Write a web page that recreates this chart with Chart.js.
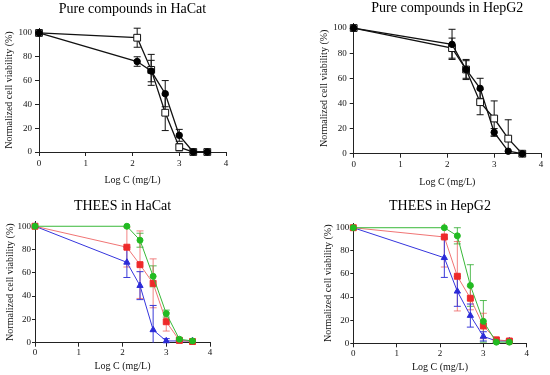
<!DOCTYPE html>
<html>
<head>
<meta charset="utf-8">
<script src="https://cdn.jsdelivr.net/npm/chart.js@4.4.1/dist/chart.umd.min.js"></script>
<style>
  html, body { margin: 0; padding: 0; background: #fff; }
  body { width: 550px; height: 375px; position: relative; overflow: hidden; }
  .panel { position: absolute; }
</style>
</head>
<body>
<div class="panel" id="p1"><canvas id="c1"></canvas></div>
<div class="panel" id="p2"><canvas id="c2"></canvas></div>
<div class="panel" id="p3"><canvas id="c3"></canvas></div>
<div class="panel" id="p4"><canvas id="c4"></canvas></div>
<script>
// Log concentration (x) shared by all panels
const logC = [0, 2.1, 2.4, 2.7, 3.0, 3.3, 3.6]
const xTicks = [0, 1, 2, 3, 4]
const yTicks = [0, 20, 40, 60, 80, 100]

// Pure compounds in HaCat
const hacatCircle = [100, 76, 68, 49, 14, 0, 0]
const hacatCircleSd = [0, 4, 9, 11, 5, 0, 0]
const hacatSquare = [100, 96, 69, 33, 4, 0, 0]
const hacatSquareSd = [0, 8, 13, 15, 3, 0, 0]

// Pure compounds in HepG2
const hepCircle = [100, 87, 67, 52, 17, 2, 0]
const hepCircleSd = [0, 12, 7, 8, 3, 0, 0]
const hepSquare = [100, 84, 67, 41, 28, 12, 0]
const hepSquareSd = [0, 8, 8, 10, 14, 15, 0]

// THEES in HaCat
const thHacatGreen = [100, 100, 88, 57, 25, 3, 1.5]
const thHacatGreenSd = [0, 0, 6, 9, 3, 1, 0]
const thHacatRed = [100, 82, 67, 51, 18, 2, 1]
const thHacatRedSd = [0, 17, 29, 21, 8, 1, 0]
const thHacatBlue = [100, 69, 49, 11, 1.5, 1.5, 1.5]
const thHacatBlueSd = [0, 13, 12, 21, 2, 0, 0]

// THEES in HepG2
const thHepGreen = [100, 100, 93, 50, 19, 1, 1]
const thHepGreenSd = [0, 0, 7, 18, 18, 1, 1]
const thHepRed = [100, 92, 58, 39, 15, 3, 2]
const thHepRedSd = [0, 26, 30, 10, 11, 2, 1]
const thHepBlue = [100, 74, 45, 24, 6, 2, 2]
const thHepBlueSd = [0, 17, 13, 10, 4, 1, 1]

const serif = "'Liberation Serif', 'Times New Roman', serif"
const axisColor = "#222"

// vertical SD bars with caps, drawn under the points
const errorBars = {
  id: "errorBars",
  beforeDatasetsDraw(chart) {
    const ctx = chart.ctx
    const y = chart.scales.y
    chart.data.datasets.forEach((ds, i) => {
      if (!ds.sd) return
      const meta = chart.getDatasetMeta(i)
      ctx.save()
      ctx.strokeStyle = ds.errColor
      ctx.lineWidth = 1
      meta.data.forEach((pt, j) => {
        const s = ds.sd[j]
        if (!s) return
        const v = ds.data[j].y
        const hi = Math.min(v + s, y.max)
        const lo = Math.max(v - s, y.min)
        const yt = y.getPixelForValue(hi)
        const yb = y.getPixelForValue(lo)
        ctx.beginPath()
        ctx.moveTo(pt.x, yt)
        ctx.lineTo(pt.x, yb)
        if (v + s <= y.max) {
          ctx.moveTo(pt.x - 3.5, yt)
          ctx.lineTo(pt.x + 3.5, yt)
        }
        if (v - s >= y.min) {
          ctx.moveTo(pt.x - 3.5, yb)
          ctx.lineTo(pt.x + 3.5, yb)
        }
        ctx.stroke()
      })
      ctx.restore()
    })
  },
}

// place a canvas so its plot area lands on the given pixels
function frame(L, R, T, B, titleY, xTitleY, yTitleX, yTick, xTick) {
  const left = Math.round(yTitleX - 10)
  const top = Math.round(titleY - 8.4)
  const width = Math.round(R + 10 - left)
  const height = Math.round(xTitleY + 10 - top)
  return {
    left, top, width, height,
    yw: L - left,
    padRight: left + width - R,
    titlePad: T - top - 16.8,
    xh: top + height - B,
    yTick, xTick,
  }
}

function makePanel(n, f, title, series) {
  const div = document.getElementById("p" + n)
  div.style.left = f.left + "px"
  div.style.top = f.top + "px"
  div.style.width = f.width + "px"
  div.style.height = f.height + "px"

  const tickFont = { family: serif, size: 9 }
  const titleFont = { family: serif, size: 10 }

  new Chart(document.getElementById("c" + n), {
    type: "line",
    data: {
      datasets: series.map((s) => ({
        data: logC.map((x, i) => ({ x: x, y: s.values[i] })),
        sd: s.sd,
        errColor: s.err,
        borderColor: s.line,
        borderWidth: s.lw,
        pointStyle: s.style,
        pointRadius: s.r,
        pointBackgroundColor: s.fill,
        pointBorderColor: s.stroke,
        pointBorderWidth: 1,
        tension: 0,
        clip: false,
      })),
    },
    options: {
      responsive: true,
      maintainAspectRatio: false,
      animation: false,
      layout: { padding: { left: 0, right: f.padRight, top: 0, bottom: 0 } },
      plugins: {
        legend: { display: false },
        tooltip: { enabled: false },
        title: {
          display: true,
          text: title,
          fullSize: false,
          color: "#000",
          font: { family: serif, size: 14, weight: "normal" },
          padding: { top: 0, bottom: f.titlePad },
        },
      },
      scales: {
        x: {
          type: "linear",
          min: xTicks[0],
          max: xTicks[xTicks.length - 1],
          afterBuildTicks: (s) => { s.ticks = xTicks.map((v) => ({ value: v })) },
          afterFit: (s) => { s.height = f.xh },
          ticks: { font: tickFont, color: "#111", padding: f.xTick[1], maxRotation: 0 },
          grid: { drawOnChartArea: false, tickLength: f.xTick[0], color: axisColor },
          border: { color: axisColor, width: 1 },
          title: { display: true, text: "Log C (mg/L)", color: "#111", font: titleFont, padding: { top: 4, bottom: 4 } },
        },
        y: {
          min: 0,
          max: 104,
          afterBuildTicks: (s) => { s.ticks = yTicks.map((v) => ({ value: v })) },
          afterFit: (s) => { s.width = f.yw },
          ticks: { font: tickFont, color: "#111", padding: f.yTick[1] },
          grid: { drawOnChartArea: false, tickLength: f.yTick[0], color: axisColor },
          border: { color: axisColor, width: 1 },
          title: { display: true, text: "Normalized cell viability (%)", color: "#111", font: titleFont, padding: { top: 4, bottom: 4 } },
        },
      },
    },
    plugins: [errorBars],
  })
}

const black = { line: "#111", lw: 1.3, err: "#111" }
function circleSeries(values, sd) {
  return { ...black, values, sd, style: "circle", r: 3.2, fill: "#000", stroke: "#000" }
}
function squareSeries(values, sd) {
  return { ...black, values, sd, style: "rect", r: 4.8, fill: "#fff", stroke: "#111" }
}
function green(values, sd) {
  return { values, sd, line: "#38b838", lw: 1, err: "rgba(40,170,40,0.8)", style: "circle", r: 3, fill: "#22bb22", stroke: "#22bb22" }
}
function red(values, sd) {
  return { values, sd, line: "rgba(235,70,70,0.75)", lw: 1, err: "rgba(235,80,80,0.7)", style: "rect", r: 4.2, fill: "#ee2a2a", stroke: "#ee2a2a" }
}
function blue(values, sd) {
  return { values, sd, line: "#3535dd", lw: 1, err: "#3a3ad8", style: "triangle", r: 3.6, fill: "#2b2bd8", stroke: "#2b2bd8" }
}

makePanel(1, frame(39, 226, 28.2, 152, 9, 180, 9, [4, 3], [4, 2]), "Pure compounds in HaCat",
  [circleSeries(hacatCircle, hacatCircleSd), squareSeries(hacatSquare, hacatSquareSd)])
makePanel(2, frame(353.7, 541, 23, 153.7, 8, 182, 324, [4, 3], [4, 2]), "Pure compounds in HepG2",
  [circleSeries(hepCircle, hepCircleSd), squareSeries(hepSquare, hepSquareSd)])
makePanel(3, frame(35, 210, 221.6, 342.7, 206, 366, 10, [3, 1], [4, 1]), "THEES in HaCat",
  [green(thHacatGreen, thHacatGreenSd), red(thHacatRed, thHacatRedSd), blue(thHacatBlue, thHacatBlueSd)])
makePanel(4, frame(353.3, 526.7, 223.1, 343.3, 206.7, 367, 328, [3, 1], [4, 1]), "THEES in HepG2",
  [green(thHepGreen, thHepGreenSd), red(thHepRed, thHepRedSd), blue(thHepBlue, thHepBlueSd)])
</script>
</body>
</html>
